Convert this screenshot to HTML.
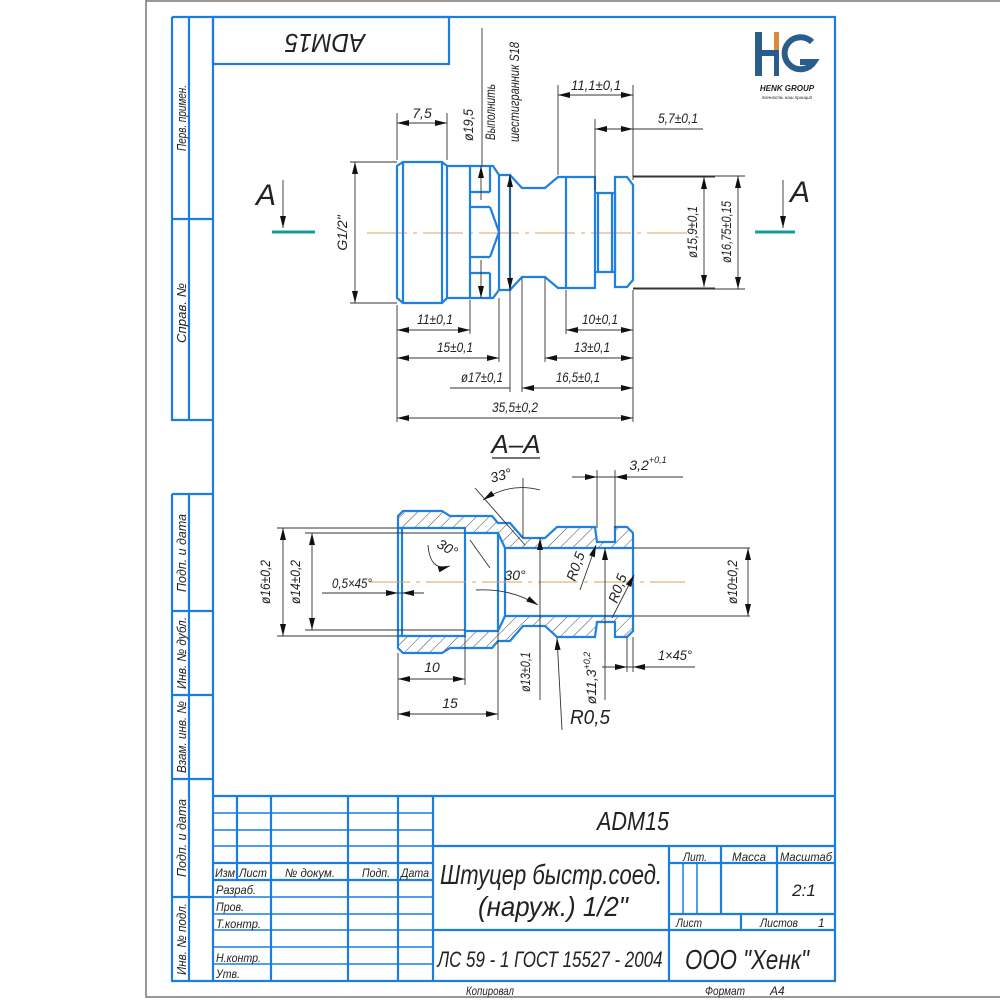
<!DOCTYPE html>
<html><head><meta charset="utf-8"><style>
html,body{margin:0;padding:0;background:#fff}
svg{display:block}
text{font-family:"Liberation Sans Narrow","Liberation Sans",sans-serif;font-style:italic;fill:#222}
.b{stroke:#1a7ee0;fill:none;stroke-width:2.2}
.bt{stroke:#1a7ee0;fill:none;stroke-width:1.5}
.d{stroke:#333;fill:none;stroke-width:0.9}
.da{stroke:#333;fill:none;stroke-width:0.9;marker-start:url(#ar);marker-end:url(#ar)}
.de{stroke:#333;fill:none;stroke-width:0.9;marker-end:url(#ar)}
.f{stroke:#1f80e0;fill:none;stroke-width:2.2}
.cl{stroke:#d9a060;stroke-width:1;stroke-dasharray:40 6 4 6}
</style></head><body>
<svg width="1000" height="1000" viewBox="0 0 1000 1000" xmlns="http://www.w3.org/2000/svg">
<defs>
<marker id="ar" viewBox="0 0 12 6" refX="12" refY="3" markerWidth="12" markerHeight="6" markerUnits="userSpaceOnUse" orient="auto-start-reverse"><path d="M0,0 L12,3 L0,6 z" fill="#111"/></marker>
<pattern id="hat" width="9" height="9" patternUnits="userSpaceOnUse" patternTransform="rotate(45)"><line x1="0" y1="0" x2="0" y2="9" stroke="#333" stroke-width="0.9"/></pattern>
</defs>
<path d="M146,0 V997 H1000 M146,1 H1000" stroke="#777" stroke-width="1.5" fill="none"/>
<rect x="213" y="17" width="622" height="964" class="b"/>
<rect x="213" y="17" width="236" height="47" class="b"/>
<text transform="translate(325,41) rotate(180)" font-size="26" text-anchor="middle" dominant-baseline="middle" textLength="80" lengthAdjust="spacingAndGlyphs">ADM15</text>
<path class="b" d="M172,17 H213 M172,17 V420 H213 M189,17 V420 M172,219 H213"/>
<path class="b" d="M172,494 H213 M172,494 V981 H213 M189,494 V981 M172,611 H213 M172,695 H213 M172,779 H213 M172,897 H213"/>
<g font-size="13">
<text transform="translate(186,118) rotate(-90)" text-anchor="middle" textLength="66" lengthAdjust="spacingAndGlyphs">Перв. примен.</text>
<text transform="translate(186,313) rotate(-90)" text-anchor="middle" textLength="60" lengthAdjust="spacingAndGlyphs">Справ. №</text>
<text transform="translate(186,553) rotate(-90)" text-anchor="middle" textLength="78" lengthAdjust="spacingAndGlyphs">Подп. и дата</text>
<text transform="translate(186,653) rotate(-90)" text-anchor="middle" textLength="72" lengthAdjust="spacingAndGlyphs">Инв. № дубл.</text>
<text transform="translate(186,737) rotate(-90)" text-anchor="middle" textLength="72" lengthAdjust="spacingAndGlyphs">Взам. инв. №</text>
<text transform="translate(186,838) rotate(-90)" text-anchor="middle" textLength="78" lengthAdjust="spacingAndGlyphs">Подп. и дата</text>
<text transform="translate(186,939) rotate(-90)" text-anchor="middle" textLength="72" lengthAdjust="spacingAndGlyphs">Инв. № подл.</text>
</g>
<rect x="755" y="32" width="7" height="44" fill="#2a5d8a"/>
<rect x="762" y="50" width="12" height="6" fill="#2a5d8a"/>
<rect x="774" y="32" width="5" height="18" fill="#d98a3a"/>
<rect x="774" y="50" width="5" height="26" fill="#2a5d8a"/>
<path d="M812,42 A16,16 0 1 0 814,62 H800" stroke="#2a5d8a" stroke-width="6" fill="none"/>
<text x="787" y="91" font-size="8" font-style="normal" font-weight="bold" text-anchor="middle" fill="#2a5d8a" style="font-family:'Liberation Sans',sans-serif">HENK GROUP</text>
<text x="787" y="99" font-size="4.5" font-style="normal" text-anchor="middle" fill="#777">точность наш принцип</text>

<text x="256" y="205" font-size="30" font-style="normal" style="font-family:'Liberation Sans',sans-serif">A</text>
<line x1="283" y1="180" x2="283" y2="228" class="de"/>
<line x1="272" y1="232" x2="315" y2="232" stroke="#159a9a" stroke-width="3"/>
<text x="790" y="202" font-size="30" font-style="normal" style="font-family:'Liberation Sans',sans-serif">A</text>
<line x1="783" y1="180" x2="783" y2="228" class="de"/>
<line x1="755" y1="232" x2="795" y2="232" stroke="#159a9a" stroke-width="3"/>

<line x1="367" y1="233" x2="690" y2="233" class="cl"/>
<g class="f">
<path d="M403,162 H442 L447,166 V298 L442,303 H403 L397,298 V166 Z"/>
<path d="M403,162 V303 M442,162 V303"/>
<path d="M447,166 H493 L499,175 V290 L493,298 H447"/>
<path d="M470,166 V298 M470,192 H490 M470,207 H490 M470,257 H490 M470,273 H490 M490,166 V192 M490,207 L499,232 L490,257 M490,273 V298"/>
<path d="M499,175 H510 V290 H499 M510,175 L522,188 H545 L558,177 H595 V288 H558 L545,277 H522 L510,290"/>
<path d="M566,177 V288"/>
<path d="M595,193 H615 V272 H595 M598,193 V272 M612,193 V272"/>
<path d="M615,177 H627 L633,185 V280 L627,287 H615 Z"/>
</g>
<g>
<path class="d" d="M397,160 V113 M447,160 V113 M558,175 V85 M633,180 V85 M595,190 V119 M350,162 H397 M350,303 H397 M633,177 H715 M633,288 H715 M633,176 H745 M633,289 H745"/>
<path class="d" d="M397,305 V422 M633,290 V422 M470,300 V334 M499,298 V362 M522,278 V392 M545,278 V362 M566,290 V334 M510,290 V392"/>
<line x1="397" y1="123" x2="447" y2="123" class="da"/>
<line x1="558" y1="95" x2="633" y2="95" class="da"/>
<path class="d" d="M595,129 H703"/><line x1="610" y1="129" x2="595" y2="129" class="de"/><line x1="618" y1="129" x2="633" y2="129" class="de"/>
<line x1="355" y1="162" x2="355" y2="303" class="da"/>
<line x1="704" y1="177" x2="704" y2="287" class="da"/>
<line x1="738" y1="176" x2="738" y2="289" class="da"/>
<path class="d" d="M482,28 V166"/><line x1="481" y1="200" x2="481" y2="166" class="de"/><line x1="481" y1="260" x2="481" y2="298" class="de"/>
<line x1="510" y1="175" x2="510" y2="290" class="da"/>
<line x1="397" y1="330" x2="470" y2="330" class="da"/>
<line x1="397" y1="358" x2="499" y2="358" class="da"/>
<path class="d" d="M450,388 H510"/>
<line x1="566" y1="330" x2="633" y2="330" class="da"/>
<line x1="545" y1="358" x2="633" y2="358" class="da"/>
<line x1="522" y1="388" x2="633" y2="388" class="da"/>
<line x1="397" y1="418" x2="633" y2="418" class="da"/>
</g>
<g font-size="14">
<text x="422" y="118" text-anchor="middle">7,5</text>
<text x="596" y="90" text-anchor="middle" textLength="50" lengthAdjust="spacingAndGlyphs">11,1±0,1</text>
<text x="678" y="123" text-anchor="middle" textLength="40" lengthAdjust="spacingAndGlyphs">5,7±0,1</text>
<text transform="translate(347,233) rotate(-90)" text-anchor="middle">G1/2"</text>
<text transform="translate(697,232) rotate(-90)" text-anchor="middle" textLength="52" lengthAdjust="spacingAndGlyphs">ø15,9±0,1</text>
<text transform="translate(731,232) rotate(-90)" text-anchor="middle" textLength="62" lengthAdjust="spacingAndGlyphs">ø16,75±0,15</text>
<text transform="translate(473,125) rotate(-90)" text-anchor="middle" textLength="32" lengthAdjust="spacingAndGlyphs">ø19,5</text>
<text transform="translate(495,112) rotate(-90)" text-anchor="middle" textLength="56" lengthAdjust="spacingAndGlyphs">Выполнить</text>
<text transform="translate(519,92) rotate(-90)" text-anchor="middle" textLength="100" lengthAdjust="spacingAndGlyphs">шестигранник S18</text>
<text x="435" y="324" text-anchor="middle" textLength="36" lengthAdjust="spacingAndGlyphs">11±0,1</text>
<text x="455" y="352" text-anchor="middle" textLength="36" lengthAdjust="spacingAndGlyphs">15±0,1</text>
<text x="482" y="382" text-anchor="middle" textLength="42" lengthAdjust="spacingAndGlyphs">ø17±0,1</text>
<text x="600" y="324" text-anchor="middle" textLength="36" lengthAdjust="spacingAndGlyphs">10±0,1</text>
<text x="592" y="352" text-anchor="middle" textLength="36" lengthAdjust="spacingAndGlyphs">13±0,1</text>
<text x="578" y="382" text-anchor="middle" textLength="44" lengthAdjust="spacingAndGlyphs">16,5±0,1</text>
<text x="515" y="412" text-anchor="middle" textLength="46" lengthAdjust="spacingAndGlyphs">35,5±0,2</text>
</g>

<text x="516" y="453" font-size="26" font-style="normal" text-anchor="middle" style="font-family:'Liberation Sans',sans-serif">A–A</text>
<line x1="492" y1="458" x2="540" y2="458" stroke="#222" stroke-width="1.3"/>
<path fill="url(#hat)" fill-rule="evenodd" d="M398,516 L403,511 H442 L450,516 H492 L498,523 H510 L523,538 H545 L557,527 H595 L597,542 H615 V527 H627 L633,533 V631 L627,637 H615 V622 H597 L595,637 H557 L545,626 H523 L510,641 H498 L492,648 H450 L442,653 H403 L398,648 Z M398,528 H465 V533 H498 L505,548 H633 V616 H505 L498,631 H465 V636 H398 Z"/>
<g class="f">
<path d="M398,516 L403,511 H442 L450,516 H492 L498,523 H510 L523,538 H545 L557,527 H595 L597,542 H615 V527 H627 L633,533 V631 L627,637 H615 V622 H597 L595,637 H557 L545,626 H523 L510,641 H498 L492,648 H450 L442,653 H403 L398,648 Z"/>
<path d="M398,528 H465 V533 H498 L505,548 H633 M398,636 H465 V631 H498 L505,616 H633 M402,528 V636 M465,528 V636 M498,533 V631 M505,548 V616"/>
</g>
<line x1="370" y1="582" x2="685" y2="582" class="cl"/>
<path class="d" d="M277,528 H398 M277,636 H398 M305,533 H465 M305,630 H465 M398,653 V720 M465,636 V685 M498,631 V720 M523,478 V538 M597,470 V528 M615,470 V528 M633,616 H750 M633,548 H750 M627,637 V672 M633,637 V672 M540,640 V700 M605,622 V700"/>
<line x1="283" y1="528" x2="283" y2="636" class="da"/>
<line x1="312" y1="533" x2="312" y2="630" class="da"/>
<line x1="748" y1="548" x2="748" y2="616" class="da"/>
<line x1="398" y1="679" x2="465" y2="679" class="da"/>
<line x1="398" y1="714" x2="498" y2="714" class="da"/>
<path class="d" d="M322,593 H424"/><line x1="385" y1="593" x2="398" y2="593" class="de"/><line x1="415" y1="593" x2="402" y2="593" class="de"/>
<path class="d" d="M572,477 H683"/><line x1="582" y1="477" x2="597" y2="477" class="de"/><line x1="630" y1="477" x2="615" y2="477" class="de"/>
<path class="d" d="M602,667 H695"/><line x1="612" y1="667" x2="627" y2="667" class="de"/><line x1="648" y1="667" x2="633" y2="667" class="de"/>
<line x1="540" y1="660" x2="540" y2="538" class="de"/>
<line x1="605" y1="660" x2="605" y2="548" class="de"/>
<path class="d" d="M475,488 L525,545"/>
<path class="de" d="M540,490 Q510,482 483,500"/>
<path class="d" d="M470,540 L490,568"/>
<path class="de" d="M428,545 Q430,572 450,566"/>
<path class="de" d="M476,590 Q510,588 538,605"/>
<line x1="580" y1="590" x2="596" y2="545" class="de"/>
<line x1="612" y1="618" x2="634" y2="575" class="de"/>
<line x1="562" y1="730" x2="557" y2="638" class="de"/>
<g font-size="14">
<text transform="translate(270,582) rotate(-90)" text-anchor="middle" textLength="44" lengthAdjust="spacingAndGlyphs">ø16±0,2</text>
<text transform="translate(300,582) rotate(-90)" text-anchor="middle" textLength="44" lengthAdjust="spacingAndGlyphs">ø14±0,2</text>
<text transform="translate(737,582) rotate(-90)" text-anchor="middle" textLength="44" lengthAdjust="spacingAndGlyphs">ø10±0,2</text>
<text x="332" y="588" textLength="40" lengthAdjust="spacingAndGlyphs">0,5×45°</text>
<text x="432" y="672" text-anchor="middle">10</text>
<text x="450" y="708" text-anchor="middle">15</text>
<text transform="translate(502,480) rotate(-15)" text-anchor="middle">33°</text>
<text transform="translate(445,552) rotate(30)" text-anchor="middle">30°</text>
<text x="515" y="580" text-anchor="middle">30°</text>
<text transform="translate(580,568) rotate(-70)" text-anchor="middle">R0,5</text>
<text transform="translate(622,590) rotate(-70)" text-anchor="middle">R0,5</text>
<text transform="translate(530,672) rotate(-90)" text-anchor="middle" textLength="40" lengthAdjust="spacingAndGlyphs">ø13±0,1</text>
<text transform="translate(596,678) rotate(-90)" text-anchor="middle">ø11,3<tspan font-size="9" dy="-6">+0,2</tspan></text>
<text x="675" y="660" text-anchor="middle" textLength="34" lengthAdjust="spacingAndGlyphs">1×45°</text>
<text x="648" y="470" text-anchor="middle">3,2<tspan font-size="9" dy="-7">+0,1</tspan></text>
<text x="590" y="724" font-size="20" text-anchor="middle" textLength="40" lengthAdjust="spacingAndGlyphs">R0,5</text>
</g>

<g class="b">
<path d="M213,796 H835"/>
<path d="M237,796 V880 M271,796 V981 M348,796 V981 M398,796 V981 M433,796 V981"/>
<path d="M213,863 H433 M213,880 H433"/>
<path d="M433,846 H835 M433,930 H835 M669,846 V981 M669,863 H835 M669,914 H835 M721,846 V914 M777,846 V914 M741,914 V930"/>
</g>
<path class="bt" d="M213,813 H433 M213,830 H433 M213,846 H433 M213,897 H433 M213,914 H433 M213,930 H433 M213,947 H433 M213,964 H433 M683,863 V914 M697,863 V914" stroke-width="1"/>
<g font-size="12">
<text x="215" y="877" textLength="20" lengthAdjust="spacingAndGlyphs">Изм</text>
<text x="239" y="877" textLength="28" lengthAdjust="spacingAndGlyphs">Лист</text>
<text x="285" y="877" textLength="50" lengthAdjust="spacingAndGlyphs">№ докум.</text>
<text x="362" y="877" textLength="28" lengthAdjust="spacingAndGlyphs">Подп.</text>
<text x="401" y="877" textLength="28" lengthAdjust="spacingAndGlyphs">Дата</text>
<text x="216" y="894" textLength="40" lengthAdjust="spacingAndGlyphs">Разраб.</text>
<text x="216" y="911" textLength="28" lengthAdjust="spacingAndGlyphs">Пров.</text>
<text x="216" y="928" textLength="45" lengthAdjust="spacingAndGlyphs">Т.контр.</text>
<text x="216" y="962" textLength="45" lengthAdjust="spacingAndGlyphs">Н.контр.</text>
<text x="216" y="978" textLength="24" lengthAdjust="spacingAndGlyphs">Утв.</text>
<text x="695" y="861" text-anchor="middle" textLength="24" lengthAdjust="spacingAndGlyphs">Лит.</text>
<text x="749" y="861" text-anchor="middle" textLength="34" lengthAdjust="spacingAndGlyphs">Масса</text>
<text x="806" y="861" text-anchor="middle" textLength="52" lengthAdjust="spacingAndGlyphs">Масштаб</text>
<text x="676" y="927" textLength="26" lengthAdjust="spacingAndGlyphs">Лист</text>
<text x="760" y="927" textLength="38" lengthAdjust="spacingAndGlyphs">Листов</text>
<text x="818" y="927">1</text>
<text x="466" y="995" textLength="48" lengthAdjust="spacingAndGlyphs">Копировал</text>
<text x="705" y="995" textLength="40" lengthAdjust="spacingAndGlyphs">Формат</text>
<text x="770" y="995">А4</text>
</g>
<text x="633" y="830" font-size="26" text-anchor="middle" textLength="72" lengthAdjust="spacingAndGlyphs">ADM15</text>
<text x="551" y="884" font-size="28" text-anchor="middle" textLength="222" lengthAdjust="spacingAndGlyphs">Штуцер быстр.соед.</text>
<text x="553" y="916" font-size="28" text-anchor="middle" textLength="150" lengthAdjust="spacingAndGlyphs">(наруж.) 1/2"</text>
<text x="804" y="896" font-size="17" text-anchor="middle">2:1</text>
<text x="550" y="967" font-size="22" text-anchor="middle" textLength="225" lengthAdjust="spacingAndGlyphs">ЛС 59 - 1 ГОСТ 15527 - 2004</text>
<text x="747" y="969" font-size="28" text-anchor="middle" textLength="124" lengthAdjust="spacingAndGlyphs">ООО "Хенк"</text>
</svg>
</body></html>
